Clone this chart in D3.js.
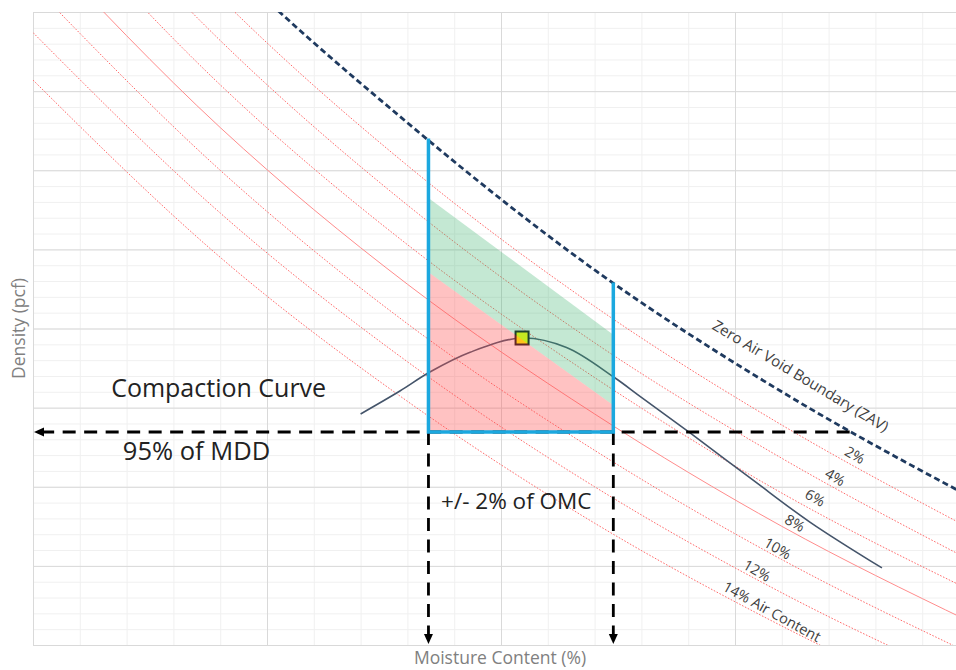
<!DOCTYPE html>
<html lang="en">
<head>
<meta charset="UTF-8">
<title>Compaction Curve</title>
<script src="https://d3js.org/d3.v7.min.js"></script>
<style>
    body { margin: 0; background: #fff; font-family: "Open Sans", sans-serif; }
    svg { display: block; }
    .note { fill: #222; }
    .air-label { fill: #404040; font-size: 14.5px; }
    .axis-title { fill: #808080; font-size: 17.5px; }
</style>
</head>
<body>
<svg id="chart" width="956" height="670"></svg>
<script>
// x = moisture content (%), y = dry density (pcf)
const moisture = [0, 4, 8, 12, 16, 20];
const zavDensity = [156.8, 143.6, 133.0, 123.7, 116.0, 109.4];
const airNames = ["2%", "4%", "6%", "8%", "10%", "12%", "14% Air Content"];
const air2 = [153.8, 140.9, 130.3, 121.4, 113.9, 107.4];
const air4 = [150.8, 138.2, 127.8, 119.1, 111.8, 105.4];
const air6 = [147.8, 135.4, 125.3, 116.9, 109.6, 103.5];
const air8 = [144.7, 132.7, 122.8, 114.6, 107.5, 101.5];
const air10 = [141.7, 130.0, 120.3, 112.3, 105.4, 99.5];
const air12 = [138.7, 127.3, 117.9, 110.0, 103.3, 97.6];
const air14 = [135.7, 124.5, 115.4, 107.7, 101.2, 95.6];

const curveMoisture = [7.0, 7.84, 8.48, 9.34, 10.45, 11.4, 12.4, 13.0, 14.04, 15.38, 16.6, 18.14];
const curveDensity = [114.6, 116.05, 117.25, 118.5, 119.4, 118.8, 116.95, 115.65, 113.4, 110.43, 107.77, 104.87];

const mddMoisture = 10.45, mddDensity = 119.4;
const mdd95 = 113.46;
const omcLow = 8.45, omcHigh = 12.4;
const zavAtLow = 132.0, zavAtHigh = 122.9;
const mddLineEnd = 17.45;
const greenTop = [[8.45, 128.25], [12.4, 119.6]];
const redTop = [[8.45, 123.55], [12.4, 115.15]];

// label positions [moisture, density]
const airLabelPos = [[17.56, 112.0], [17.14, 110.6], [16.71, 109.3], [16.28, 107.7], [15.91, 106.1], [15.47, 104.7], [15.79, 102.1]];

const svg = d3.select("#chart");
const pl = 33, pt = 12, pr = 969, pb = 645;

const x = d3.scaleLinear().domain([0, 20]).range([pl, pr]);
const y = d3.scaleLinear().domain([100, 140]).range([pb, pt]);

const defs = svg.append("defs");
defs.append("clipPath").attr("id", "plot")
    .append("rect").attr("x", pl).attr("y", pt)
    .attr("width", pr - pl).attr("height", pb - pt);

defs.append("marker")
    .attr("id", "arrow").attr("viewBox", "0 0 10 10")
    .attr("refX", 10).attr("refY", 5)
    .attr("markerWidth", 10).attr("markerHeight", 10)
    .attr("markerUnits", "userSpaceOnUse").attr("orient", "auto")
    .append("path").attr("d", "M0,0.5L10,5L0,9.5Z").attr("fill", "#000");

// grid: minor then major
function grid(step, color) {
    svg.append("g")
        .attr("transform", `translate(0,${pb})`)
        .call(d3.axisBottom(x).tickValues(d3.range(0, 21, step)).tickSize(-(pb - pt)).tickFormat(""))
        .call(g => g.select(".domain").remove())
        .selectAll("line").attr("stroke", color);
    svg.append("g")
        .attr("transform", `translate(${pl},0)`)
        .call(d3.axisLeft(y).tickValues(d3.range(100, 141, step)).tickSize(-(pr - pl)).tickFormat(""))
        .call(g => g.select(".domain").remove())
        .selectAll("line").attr("stroke", color);
}
grid(1, "#f0f0f0");
grid(5, "#d9d9d9");

const plot = svg.append("g").attr("clip-path", "url(#plot)");
const line = d3.line().x(d => x(d[0])).y(d => y(d[1])).curve(d3.curveMonotoneX);

// air content lines
[air2, air4, air6, air8, air10, air12, air14].forEach((vals, i) => {
    plot.append("path")
        .datum(moisture.map((m, j) => [m, vals[j]]))
        .attr("d", line)
        .attr("fill", "none")
        .attr("stroke", i === 3 ? "#ff8c8c" : "#ff6b6b")
        .attr("stroke-width", 1)
        .attr("stroke-dasharray", i === 3 ? null : "1.6,1.6");
});

// compaction curve
plot.append("path")
    .datum(curveMoisture.map((m, i) => [m, curveDensity[i]]))
    .attr("d", d3.line().x(d => x(d[0])).y(d => y(d[1])).curve(d3.curveCatmullRom.alpha(0.5)))
    .attr("fill", "none")
    .attr("stroke", "#44546a")
    .attr("stroke-width", 1.6);

// MDD marker
plot.append("rect")
    .attr("x", x(mddMoisture) - 6.5).attr("y", y(mddDensity) - 6.5)
    .attr("width", 13).attr("height", 13)
    .attr("fill", "#ffff00").attr("stroke", "#111").attr("stroke-width", 2);

// shaded zones
const poly = d3.line().x(d => x(d[0])).y(d => y(d[1]));
plot.append("path")
    .attr("d", poly(greenTop.concat(redTop.slice().reverse())) + "Z")
    .attr("fill", "rgba(60,180,110,0.3)");
plot.append("path")
    .attr("d", poly(redTop.concat([[omcHigh, mdd95], [omcLow, mdd95]])) + "Z")
    .attr("fill", "rgba(255,80,80,0.35)");

// zero air void
plot.append("path")
    .datum(moisture.map((m, j) => [m, zavDensity[j]]))
    .attr("d", line)
    .attr("fill", "none")
    .attr("stroke", "#1f3a5f")
    .attr("stroke-width", 2.8)
    .attr("stroke-dasharray", "6,3.5");

// dashed arrows
const arrowStyle = s => s.attr("stroke", "#000").attr("stroke-width", 2.8)
    .attr("stroke-dasharray", "13,8.5").attr("marker-end", "url(#arrow)");
svg.append("line")
    .attr("x1", x(mddLineEnd)).attr("y1", y(mdd95))
    .attr("x2", x(0) + 1).attr("y2", y(mdd95)).call(arrowStyle);
[omcLow, omcHigh].forEach(m => {
    svg.append("line")
        .attr("x1", x(m)).attr("y1", y(mdd95))
        .attr("x2", x(m)).attr("y2", y(100) - 1).call(arrowStyle);
});

// blue OMC box
svg.append("path")
    .attr("d", `M${x(omcLow)},${y(zavAtLow)}V${y(mdd95)}H${x(omcHigh)}V${y(zavAtHigh)}`)
    .attr("fill", "none")
    .attr("stroke", "#1ba8df")
    .attr("stroke-width", 3.5);

// annotations
svg.append("text").attr("class", "note")
    .attr("x", x(1.67)).attr("y", y(115.67))
    .style("font-size", "25px").text("Compaction Curve");
svg.append("text").attr("class", "note")
    .attr("x", x(1.92)).attr("y", y(111.69))
    .style("font-size", "25.5px").text("95% of MDD");
svg.append("text").attr("class", "note")
    .attr("x", x(8.72)).attr("y", y(108.6))
    .style("font-size", "22.5px").text("+/- 2% of OMC");

svg.append("text").attr("class", "air-label")
    .attr("transform", `translate(${x(16.4)},${y(117.0)}) rotate(31)`)
    .attr("text-anchor", "middle").attr("dy", "0.35em")
    .style("font-size", "15px")
    .text("Zero Air Void Boundary (ZAV)");

airNames.forEach((name, i) => {
    svg.append("text").attr("class", "air-label")
        .attr("transform", `translate(${x(airLabelPos[i][0])},${y(airLabelPos[i][1])}) rotate(${i === 6 ? 29 : 30})`)
        .attr("text-anchor", "middle").attr("dy", "0.35em")
        .text(name);
});

// axis titles
svg.append("text").attr("class", "axis-title")
    .attr("transform", `translate(25,${(pt + pb) / 2}) rotate(-90)`)
    .attr("text-anchor", "middle").text("Density (pcf)");
svg.append("text").attr("class", "axis-title")
    .attr("x", 500).attr("y", 664)
    .attr("text-anchor", "middle").text("Moisture Content (%)");
</script>
</body>
</html>
